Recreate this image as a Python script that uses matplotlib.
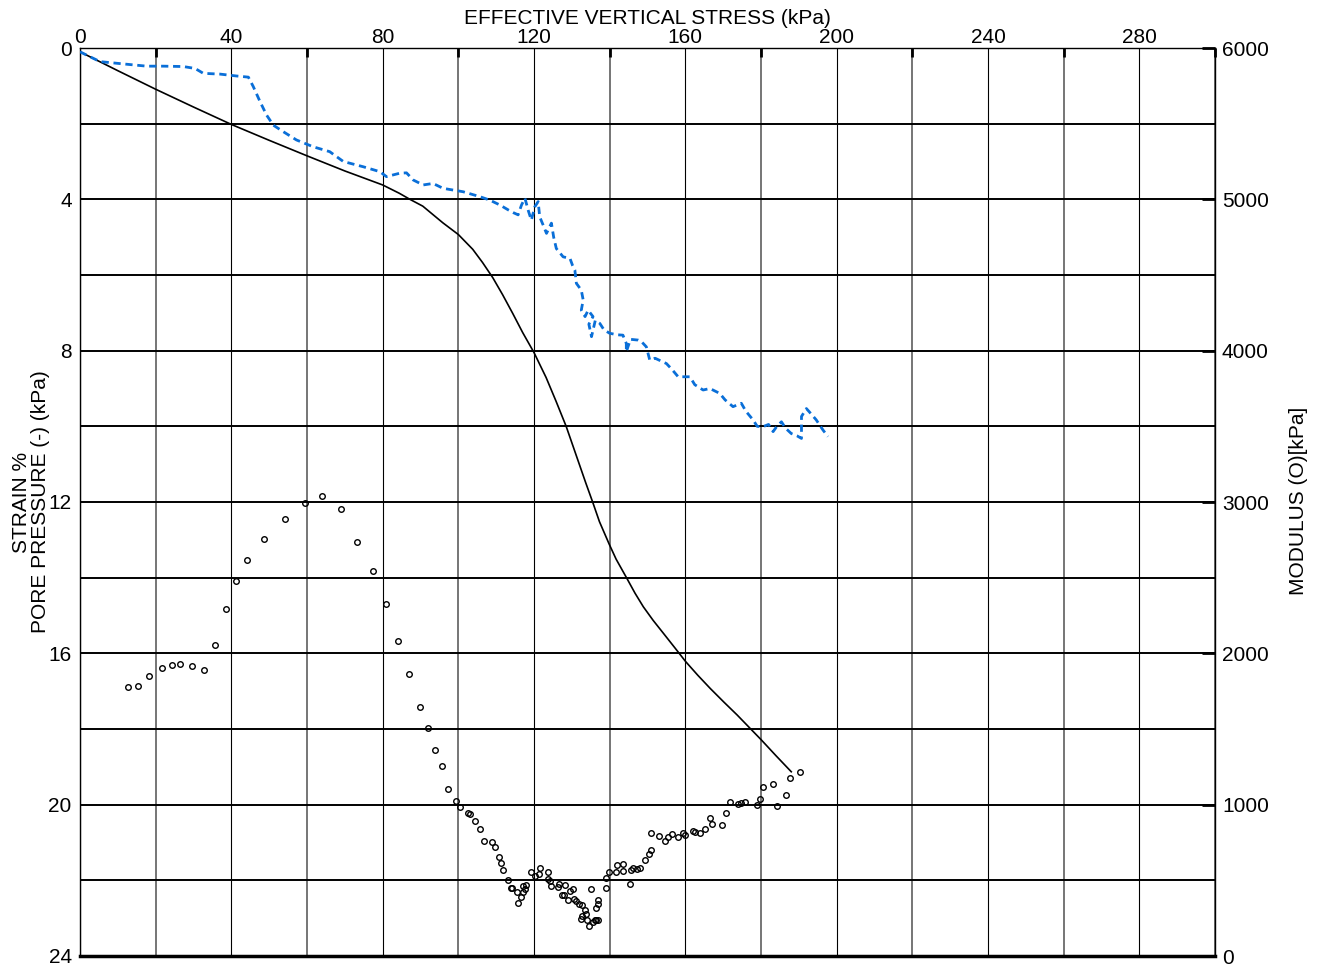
import matplotlib
matplotlib.use("Agg")
import matplotlib.pyplot as plt
from matplotlib.ticker import MultipleLocator

plt.rcParams['font.family'] = ['Liberation Sans', 'DejaVu Sans']

# Strain (%) versus effective vertical stress (kPa)
strain_stress = [0, 10, 20, 30, 40, 50, 60, 70, 80, 84.4, 87.2, 90.6, 95.9,
                 100.0, 103.8, 106.4, 109.1, 111.7, 114.4, 117.0, 120.0,
                 123.2, 125.8, 128.5, 131.1, 133.7, 135.5, 137.3, 139.9,
                 141.7, 144.5, 146.7, 148.9, 151.5, 154.2, 157.2, 160.1,
                 163.3, 166.6, 170.2, 173.7, 176.9, 180.1, 184.0, 188.0]
strain_pct = [0.1, 0.6, 1.09, 1.56, 2.02, 2.44, 2.85, 3.25, 3.62, 3.84, 4.0,
              4.18, 4.62, 4.93, 5.32, 5.67, 6.07, 6.52, 7.02, 7.52, 8.05,
              8.71, 9.33, 10.0, 10.75, 11.5, 12.0, 12.52, 13.12, 13.51,
              14.01, 14.41, 14.77, 15.13, 15.47, 15.85, 16.22, 16.58, 16.93,
              17.29, 17.63, 17.96, 18.29, 18.71, 19.13]

# Pore pressure (-) (kPa) versus effective vertical stress (kPa)
pp_stress = [0, 1.8, 5.3, 11.4, 17.6, 22, 27.3, 30.4, 32.6, 37, 41.4, 44.5,
             45.8, 47.6, 49.3, 51.1, 53.7, 57.2, 61.6, 66, 69.6, 74.9, 79.3,
             81, 84.5, 86.3, 88.1, 90.7, 93.3, 96, 101.3, 105.7, 108.3, 111,
             113.2, 114.5, 115.8, 116.7, 117.6, 118.5, 119.3, 120.2, 121.1,
             121.5, 122.5, 123.3, 124.6, 125.2, 125.9, 127.7, 129.5, 130.2,
             130.8, 131.2, 132.5, 133.0, 132.5, 133.5, 134.3, 135.6, 134.5,
             135.2, 136.2, 137.4, 138.5, 140, 142, 143.5, 144.4, 144.4, 145.5,
             147.5, 148.4, 149.7, 150.6, 152, 155, 156.5, 158.1, 161.2, 162.5,
             164.7, 166.5, 169.1, 170.5, 172.6, 174.8, 176, 177.9, 179, 180.5,
             182, 183.2, 184.2, 185.4, 186.5, 188, 189.5, 190.7, 190.7, 192,
             193.5, 194.6, 196.4, 197.7]
pp_kpa = [0.1, 0.19, 0.36, 0.42, 0.48, 0.48, 0.49, 0.54, 0.67, 0.69, 0.74,
          0.77, 1.02, 1.42, 1.77, 2.04, 2.21, 2.43, 2.61, 2.74, 3.0, 3.14,
          3.27, 3.40, 3.31, 3.30, 3.49, 3.62, 3.58, 3.71, 3.80, 3.93, 4.02,
          4.15, 4.28, 4.35, 4.41, 4.15, 3.97, 4.3, 4.55, 4.2, 4.06, 4.46, 4.7,
          4.90, 4.63, 5.0, 5.30, 5.52, 5.56, 5.75, 5.87, 6.22, 6.40, 6.66,
          6.93, 7.1, 6.93, 7.10, 7.3, 7.63, 7.2, 7.28, 7.45, 7.54, 7.58, 7.59,
          7.81, 8.03, 7.7, 7.72, 7.76, 7.90, 8.25, 8.2, 8.34, 8.5, 8.69, 8.69,
          8.9, 9.04, 9.0, 9.13, 9.3, 9.48, 9.39, 9.6, 9.83, 10.0, 10.01, 9.95,
          10.14, 10.0, 9.88, 10.05, 10.19, 10.25, 10.32, 9.74, 9.53, 9.7, 9.83,
          10.10, 10.27]

# Modulus (kPa) versus effective vertical stress (kPa)
mod_stress = [12.7, 15.4, 18.3, 21.7, 24.3, 26.5, 29.7, 32.8, 35.7, 38.6,
              41.3, 44.2, 48.7, 54.2, 59.4, 64.0, 69.0, 73.1, 77.5, 80.8,
              84.0, 87.0, 90.0, 91.9, 93.9, 95.7, 97.3, 99.3, 100.4, 102.6,
              103.1, 104.5, 105.7, 106.8, 108.9, 109.7, 110.7, 111.4, 111.8,
              113.2, 113.8, 114.2, 115.6, 115.8, 116.5, 117.0, 117.6, 117.0,
              117.8, 119.2, 120.3, 121.3, 121.5, 123.6, 123.6, 124.2, 124.6,
              126.3, 126.6, 128.2, 127.4, 128.0, 128.9, 129.6, 130.4, 130.7,
              131.2, 132.0, 132.7, 133.5, 133.7, 132.6, 132.4, 134.1, 134.6,
              135.1, 135.5, 136.0, 136.4, 136.9, 136.4, 136.9, 136.9, 138.9,
              139.1, 139.8, 141.7, 141.9, 143.5, 143.5, 145.3, 145.7, 146.2,
              147.1, 148.1, 149.4, 150.4, 150.9, 150.8, 153.1, 154.5, 155.3,
              156.5, 158.1, 159.3, 159.9, 161.9, 162.6, 163.9, 165.1, 166.6,
              167.0, 169.6, 170.7, 171.8, 173.9, 174.6, 175.8, 179.0, 179.7,
              180.5, 183.1, 184.3, 186.7, 187.7, 190.3]
modulus = [1778, 1784, 1848, 1903, 1921, 1930, 1918, 1888, 2053, 2295, 2478,
           2615, 2756, 2886, 2991, 3038, 2954, 2738, 2544, 2324, 2082, 1861,
           1645, 1507, 1359, 1256, 1106, 1024, 987, 947, 938, 892, 837, 758,
           751, 718, 656, 617, 570, 502, 451, 449, 421, 348, 392, 421, 443,
           465, 467, 555, 529, 542, 584, 557, 511, 498, 460, 456, 474, 469,
           401, 403, 368, 430, 443, 379, 361, 344, 335, 301, 278, 264, 244,
           238, 200, 441, 227, 236, 236, 236, 315, 344, 368, 518, 447, 553,
           553, 599, 562, 610, 474, 570, 584, 577, 580, 634, 676, 700, 815,
           793, 758, 786, 808, 784, 813, 798, 828, 819, 813, 837, 910, 872,
           868, 943, 1016, 1002, 1011, 1018, 996, 1037, 1115, 1135, 991, 1062,
           1176, 1214]

x_ticks = [0, 40, 80, 120, 160, 200, 240, 280]
strain_ticks = [0, 4, 8, 12, 16, 20, 24]
modulus_ticks = [0, 1000, 2000, 3000, 4000, 5000, 6000]

FS = 15
W, H = 1325, 965
fig = plt.figure(figsize=(W / 100, H / 100), dpi=100)
ax = fig.add_axes([80 / W, 1 - 956 / H, (1215 - 80) / W, (956 - 48) / H])
ax2 = ax.twinx()

# left axis: strain / pore pressure, increasing downwards
ax.set_xlim(0, 300)
ax.set_ylim(24, 0)
ax.xaxis.tick_top()
ax.set_xticks(x_ticks)
ax.xaxis.set_minor_locator(MultipleLocator(20))
ax.set_yticks(strain_ticks)
ax.yaxis.set_minor_locator(MultipleLocator(2))

ax.tick_params(axis='x', which='major', top=True, bottom=False, length=0,
               pad=1, labelsize=FS)
ax.tick_params(axis='x', which='minor', top=True, bottom=False,
               direction='in', length=6.5, width=2)
ax.tick_params(axis='y', which='both', length=0, pad=6, labelsize=FS)

ax.grid(True, axis='x', which='major', color='black', lw=0.8)
ax.grid(True, axis='x', which='minor', color='#6a6a6a', lw=1.3)
ax.grid(True, axis='y', which='both', color='black', lw=1.4)
ax.set_axisbelow(True)

for side in ('left', 'right', 'top'):
    ax.spines[side].set_linewidth(1.0)
ax.spines['bottom'].set_linewidth(2.5)

ax.plot(strain_stress, strain_pct, color='black', lw=1.2, zorder=3)
ax.plot(pp_stress, pp_kpa, color='#0a6fd8', lw=2.0, dashes=(2.6, 1.7),
        zorder=3)

# right axis: modulus
ax2.set_ylim(0, 6000)
ax2.set_yticks(modulus_ticks)
ax2.tick_params(axis='y', direction='in', length=9.5, width=2, pad=5,
                labelsize=FS)
for side in ax2.spines.values():
    side.set_visible(False)
ax2.plot(mod_stress, modulus, linestyle='none', marker='o', markersize=4.0,
         mfc='none', mec='black', mew=1.0, zorder=4)

fig.text(647 / W, 1 - 18 / H, 'EFFECTIVE VERTICAL STRESS (kPa)',
         ha='center', va='center', fontsize=FS)
fig.text(31 / W, 1 - 502 / H, 'STRAIN %\nPORE PRESSURE (-) (kPa)',
         ha='center', va='center', rotation=90, fontsize=FS,
         multialignment='center', linespacing=1.0)
fig.text(1298 / W, 1 - 501 / H, 'MODULUS (O)[kPa]', ha='center',
         va='center', rotation=90, fontsize=FS)

fig.savefig('out.png', dpi=100)
